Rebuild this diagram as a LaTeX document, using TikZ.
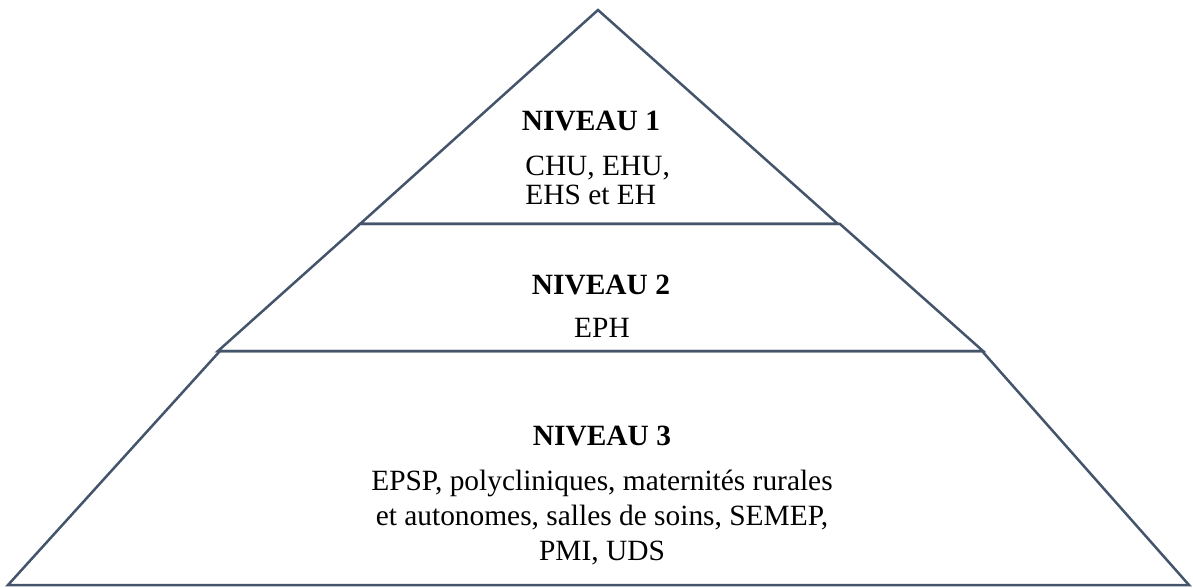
\documentclass[tikz,border=0pt]{standalone}
\usepackage{fontspec}
\setmainfont{Liberation Serif}
\usepackage{tikz}
\definecolor{myslate}{HTML}{44546A}
\usetikzlibrary{positioning}

\begin{document}
\begin{tikzpicture}[
  x=0.5pt,
  y=-0.5pt,
  mylevel/.style={
    draw=myslate,
    line width=1.25pt,
    line join=miter
    },
  mytitle/.style={
    font=\fontsize{14.7}{17.5}\selectfont\bfseries,
    inner sep=0pt,
    anchor=base
    },
  mytext/.style={
    font=\fontsize{14.7}{17.5}\selectfont,
    inner sep=0pt,
    anchor=base,
    align=center
    }
]
\useasboundingbox (0,0) rectangle (1193,588);

\draw[mylevel] (598,10) -- (838,224) -- (360,224) -- cycle;
\draw[mylevel] (360,224) -- (840,224) -- (983,351) -- (218,351) -- cycle;
\draw[mylevel] (220,351) -- (982,351) -- (1189,585) -- (8,585) -- cycle;

% base anchor of a multi-line node sits on its last line
\node[mytitle] (niveau1) at (591,131) {NIVEAU 1};
\node[mytext, anchor=base west, align=left, font=\fontsize{14.7}{14.5}\selectfont]
  (etab1) at (525,205) {CHU, EHU,\\EHS et EH};

\node[mytitle] (niveau2) at (601,294) {NIVEAU 2};
\node[mytext] (etab2) at (602,337) {EPH};

\node[mytitle] (niveau3) at (602,445) {NIVEAU 3};
\node[mytext] (etab3) at (602,560)
  {EPSP, polycliniques, maternités rurales\\
   et autonomes, salles de soins, SEMEP,\\
   PMI, UDS};

\end{tikzpicture}
\end{document}
